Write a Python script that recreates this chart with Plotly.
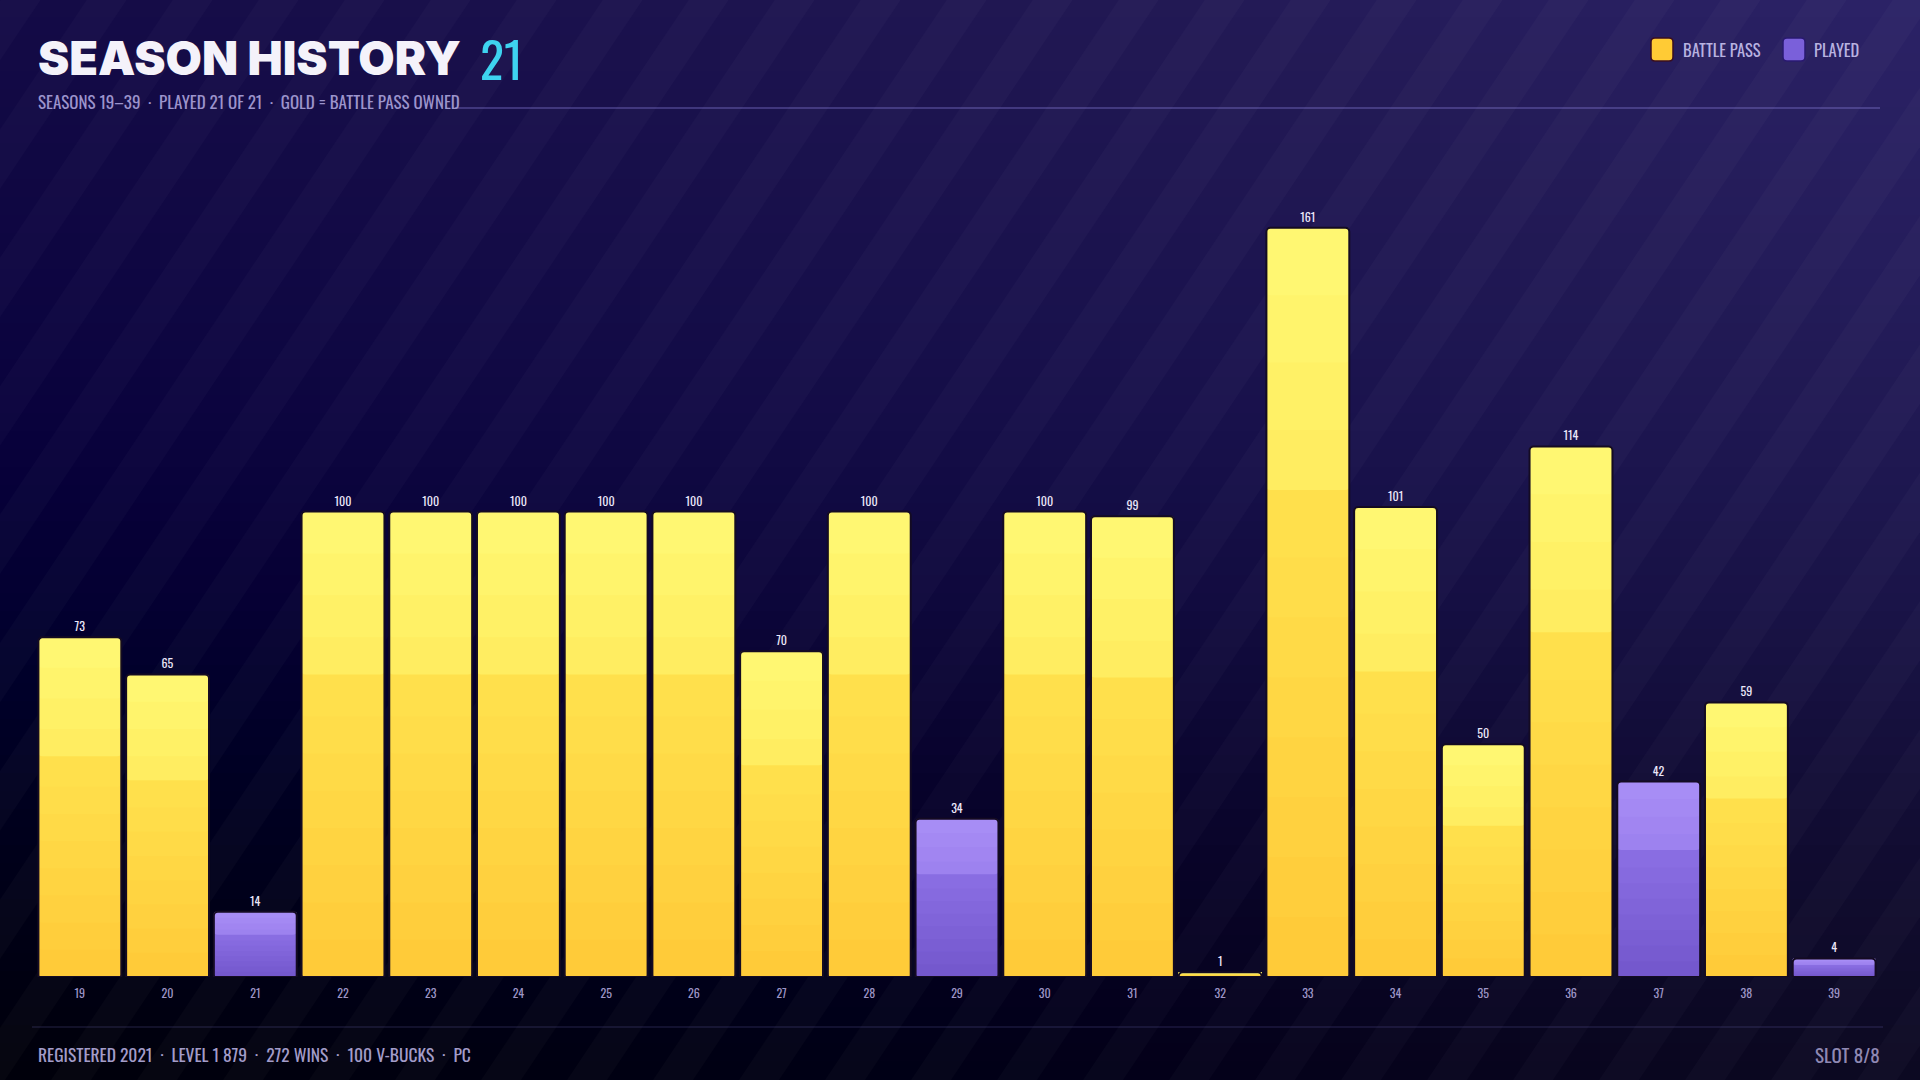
import plotly.graph_objects as go

# ---------------- data ----------------
seasons = ["19", "20", "21", "22", "23", "24", "25", "26", "27", "28", "29",
           "30", "31", "32", "33", "34", "35", "36", "37", "38", "39"]
levels = [73, 65, 14, 100, 100, 100, 100, 100, 70, 100, 34,
          100, 99, 1, 161, 101, 50, 114, 42, 59, 4]
battle_pass = [True, True, False, True, True, True, True, True, True, True, False,
               True, True, True, True, True, True, True, False, True, False]

title_text = "SEASON HISTORY"
title_count = "21"
subtitle_text = "SEASONS 19\u201339  \u00b7  PLAYED 21 OF 21  \u00b7  GOLD = BATTLE PASS OWNED"
footer_text = "REGISTERED 2021  \u00b7  LEVEL 1 879  \u00b7  272 WINS  \u00b7  100 V-BUCKS  \u00b7  PC"
slot_text = "SLOT 8/8"
legend_labels = ["BATTLE PASS", "PLAYED"]

# ---------------- styling ----------------
W, H = 1920, 1080
COND = "Oswald, 'Liberation Sans Narrow', 'Arial Narrow', 'DejaVu Sans Condensed', 'Roboto Condensed', sans-serif"
HEAVY = "Inter, Lato, 'DejaVu Sans', sans-serif"
PX_PER_UNIT = 4.654
BASE_Y = 977
TOP_Y = 180
Y_MAX = (BASE_Y - TOP_Y) / PX_PER_UNIT


def px(x):
    return x / W


def py(y):
    return 1 - y / H


def hex2rgb(h):
    h = h.lstrip("#")
    return tuple(int(h[i:i + 2], 16) for i in (0, 2, 4))


def lerp(c1, c2, t):
    a, b = hex2rgb(c1), hex2rgb(c2)
    return "rgb(%d,%d,%d)" % tuple(round(a[i] + (b[i] - a[i]) * t) for i in range(3))


GOLD_LO = ("#FFCA38", "#FFE24E")
GOLD_HI = ("#FFEC5E", "#FFF975")
PURP_LO = ("#7257CB", "#8B6FE4")
PURP_HI = ("#9C80EE", "#A98FF6")
STEP = 0.65

fig = go.Figure()

# gradient layers for each bar: each layer spans from its start fraction to the top,
# later layers drawn over earlier ones (no seams)
starts = [0, 0.08, 0.16, 0.24, 0.32, 0.40, 0.48, 0.56, STEP, 0.73, 0.82, 0.91]
ends = starts[1:] + [1.0]
for f0, f1 in zip(starts, ends):
    fm = (f0 + f1) / 2
    cols = []
    for bp in battle_pass:
        lo, hi = (GOLD_LO, GOLD_HI) if bp else (PURP_LO, PURP_HI)
        if fm < STEP:
            cols.append(lerp(lo[0], lo[1], fm / STEP))
        else:
            cols.append(lerp(hi[0], hi[1], (fm - STEP) / (1 - STEP)))
    fig.add_trace(go.Bar(
        x=seasons,
        y=[v * (1 - f0) for v in levels],
        base=[v * f0 for v in levels],
        marker=dict(color=cols, line=dict(width=0), cornerradius=4),
        width=0.945,
        showlegend=False,
        hoverinfo="skip",
    ))

# outline + value labels
fig.add_trace(go.Bar(
    x=seasons,
    y=levels,
    marker=dict(color="rgba(0,0,0,0)", line=dict(color="#140b22", width=2), cornerradius=4),
    width=0.945,
    text=[str(v) for v in levels],
    textposition="outside",
    textfont=dict(family=COND, size=12, color="#ECE8FA"),
    cliponaxis=False,
    showlegend=False,
    hovertemplate="Season %{x}: %{y}<extra></extra>",
))

shapes = []
# background vertical gradient
stops = [(0, "#2c2368"), (300, "#251d5c"), (600, "#1b1549"), (820, "#130e35"), (1080, "#0d0a22")]
n_bands = 60
for i in range(n_bands):
    y0 = i * H / n_bands
    y1 = (i + 1) * H / n_bands
    ym = (y0 + y1) / 2
    for j in range(len(stops) - 1):
        if stops[j][0] <= ym <= stops[j + 1][0]:
            t = (ym - stops[j][0]) / (stops[j + 1][0] - stops[j][0])
            col = lerp(stops[j][1], stops[j + 1][1], t)
            break
    shapes.append(dict(type="rect", xref="paper", yref="paper", layer="below",
                       x0=0, x1=1, y0=py(y1) - 0.001, y1=py(y0) + 0.001,
                       fillcolor=col, line=dict(width=0)))
# darker left side: nested rectangles (no seams)
n_cols = 24
for i in range(n_cols):
    x1 = (i + 1) * W / n_cols
    shapes.append(dict(type="rect", xref="paper", yref="paper", layer="below",
                       x0=0, x1=px(x1), y0=0, y1=1,
                       fillcolor="rgba(8,5,25,0.011)", line=dict(width=0)))
# diagonal stripes
dx = 0.67 * H
period = 86
sw = 40
o = -int(dx) - period
while o < W + period:
    path = "M %f %f L %f %f L %f %f L %f %f Z" % (
        px(o), py(H), px(o + sw), py(H), px(o + sw + dx), py(0), px(o + dx), py(0))
    shapes.append(dict(type="path", xref="paper", yref="paper", layer="below", path=path,
                       fillcolor="rgba(255,255,255,0.025)", line=dict(width=0)))
    o += period

# header & footer rules
shapes.append(dict(type="line", xref="paper", yref="paper", layer="below",
                   x0=px(455), x1=px(1880), y0=py(108), y1=py(108),
                   line=dict(color="rgba(140,128,220,0.45)", width=1.5)))
shapes.append(dict(type="line", xref="paper", yref="paper", layer="below",
                   x0=px(32), x1=px(1883), y0=py(1027), y1=py(1027),
                   line=dict(color="rgba(140,128,220,0.18)", width=1.5)))


def rounded_rect(x0, y0, x1, y1, r):
    return ("M %f %f L %f %f Q %f %f %f %f L %f %f Q %f %f %f %f "
            "L %f %f Q %f %f %f %f L %f %f Q %f %f %f %f Z") % (
        px(x0 + r), py(y0), px(x1 - r), py(y0), px(x1), py(y0), px(x1), py(y0 + r),
        px(x1), py(y1 - r), px(x1), py(y1), px(x1 - r), py(y1),
        px(x0 + r), py(y1), px(x0), py(y1), px(x0), py(y1 - r),
        px(x0), py(y0 + r), px(x0), py(y0), px(x0 + r), py(y0))


# legend swatches
shapes.append(dict(type="path", xref="paper", yref="paper",
                   path=rounded_rect(1651, 38, 1673, 61, 4),
                   fillcolor="#FFCB35", line=dict(color="#3a0f22", width=1.5)))
shapes.append(dict(type="path", xref="paper", yref="paper",
                   path=rounded_rect(1783, 38, 1805, 61, 4),
                   fillcolor="#7A60DA", line=dict(color="#2a1a70", width=1.5)))

annotations = [
    dict(text=title_text, x=px(36), y=py(57), xanchor="left", yanchor="middle",
         font=dict(family=HEAVY, size=47, color="#F4F2FA", weight=900)),
    dict(text=title_count, x=px(478), y=py(57), xanchor="left", yanchor="middle",
         font=dict(family=COND, size=50, color="#3ED3F0")),
    dict(text=subtitle_text, x=px(36), y=py(101), xanchor="left", yanchor="middle",
         font=dict(family=COND, size=17, color="#9C94CC")),
    dict(text=legend_labels[0], x=px(1681), y=py(50), xanchor="left", yanchor="middle",
         font=dict(family=COND, size=16.5, color="#B8B2E0")),
    dict(text=legend_labels[1], x=px(1812), y=py(50), xanchor="left", yanchor="middle",
         font=dict(family=COND, size=16.5, color="#B8B2E0")),
    dict(text=footer_text, x=px(36), y=py(1054), xanchor="left", yanchor="middle",
         font=dict(family=COND, size=17.5, color="#A39CC9")),
    dict(text=slot_text, x=px(1882), y=py(1054), xanchor="right", yanchor="middle",
         font=dict(family=COND, size=19, color="#8F88B3")),
]
for a in annotations:
    a.update(xref="paper", yref="paper", showarrow=False)

fig.update_layout(
    width=W, height=H,
    margin=dict(l=0, r=0, t=0, b=0),
    paper_bgcolor="#1a1446",
    plot_bgcolor="rgba(0,0,0,0)",
    barmode="overlay",
    bargap=0.055,
    shapes=shapes,
    annotations=annotations,
    showlegend=False,
    xaxis=dict(
        type="category",
        domain=[px(36), px(1878)],
        showgrid=False, zeroline=False, showline=False,
        ticks="", ticklabelstandoff=8,
        tickfont=dict(family=COND, size=12, color="#9D95C6"),
        fixedrange=True,
    ),
    yaxis=dict(
        domain=[1 - BASE_Y / H, 1 - TOP_Y / H],
        range=[0, Y_MAX],
        showgrid=False, zeroline=False, showline=False,
        showticklabels=False, ticks="",
        fixedrange=True,
    ),
)

fig.write_html("out.html",
               config={"displayModeBar": False},
               post_script="document.body.style.margin='0';document.body.style.overflow='hidden';")
